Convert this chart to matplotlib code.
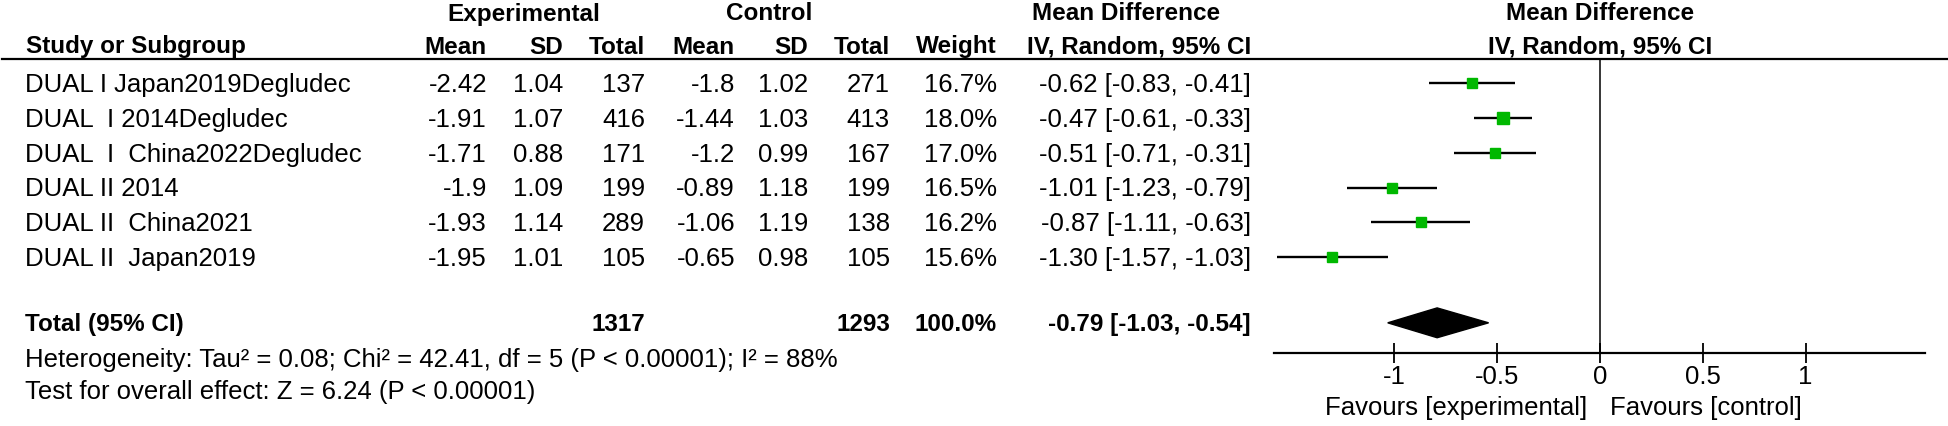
import matplotlib
matplotlib.use('Agg')
import matplotlib.pyplot as plt
from matplotlib.lines import Line2D
from matplotlib.transforms import blended_transform_factory

# study data
studies = ["DUAL I Japan2019Degludec", "DUAL  I 2014Degludec", "DUAL  I  China2022Degludec",
           "DUAL II 2014", "DUAL II  China2021", "DUAL II  Japan2019"]
exp_mean = ["-2.42", "-1.91", "-1.71", "-1.9", "-1.93", "-1.95"]
exp_sd = ["1.04", "1.07", "0.88", "1.09", "1.14", "1.01"]
exp_n = [137, 416, 171, 199, 289, 105]
ctl_mean = ["-1.8", "-1.44", "-1.2", "-0.89", "-1.06", "-0.65"]
ctl_sd = ["1.02", "1.03", "0.99", "1.18", "1.19", "0.98"]
ctl_n = [271, 413, 167, 199, 138, 105]
weight = [16.7, 18.0, 17.0, 16.5, 16.2, 15.6]
md = [-0.62, -0.47, -0.51, -1.01, -0.87, -1.30]
lo = [-0.83, -0.61, -0.71, -1.23, -1.11, -1.57]
hi = [-0.41, -0.33, -0.31, -0.79, -0.63, -1.03]
tot_exp, tot_ctl = 1317, 1293
tot_md, tot_lo, tot_hi = -0.79, -1.03, -0.54
het_text = "Heterogeneity: Tau\u00b2 = 0.08; Chi\u00b2 = 42.41, df = 5 (P < 0.00001); I\u00b2 = 88%"
overall_text = "Test for overall effect: Z = 6.24 (P < 0.00001)"
ticks = [-1, -0.5, 0, 0.5, 1]
tick_labels = ["-1", "-0.5", "0", "0.5", "1"]

W, H = 1949, 426
plt.rcParams['font.family'] = ['Liberation Sans', 'DejaVu Sans']
fig = plt.figure(figsize=(W / 100, H / 100), dpi=100)

# forest panel
ax = fig.add_axes([1274.5 / W, 1 - 353 / H, (1925 - 1274.5) / W, (353 - 59) / H])
n = len(studies)
rows = list(range(n))
tot_row = n + 0.9
ax.set_xlim(-1.58, 1.58)
ax.set_ylim(7.77, -0.705)

for y, m, l, h, w in zip(rows, md, lo, hi, weight):
    ax.plot([l, h], [y, y], color='black', lw=1.7, solid_capstyle='butt')
    ax.plot(m, y, marker='s', ms=w * 0.45, color='#00b800', mec='#00b800')
ax.fill([tot_lo, tot_md, tot_hi, tot_md], [tot_row, tot_row - 0.43, tot_row, tot_row + 0.43],
        color='black')
ax.axvline(0, color='black', lw=1.1)

for s in ['top', 'left', 'right']:
    ax.spines[s].set_visible(False)
ax.spines['bottom'].set_linewidth(1.6)
ax.set_yticks([])
ax.set_xticks(ticks)
ax.set_xticklabels(tick_labels)
ax.tick_params(axis='x', direction='inout', length=14, width=1.3, labelsize=18.5, pad=2)

fig.text(1587 / W, 1 - 408 / H, "Favours [experimental]", ha='right', va='center', fontsize=18.5)
fig.text(1610 / W, 1 - 408 / H, "Favours [control]", ha='left', va='center', fontsize=18.5)

# header
def hx(px):
    return px / W

def hy(py):
    return 1 - py / H

hfs = 17.5
for label, cx in [("Experimental", 524), ("Control", 769), ("Mean Difference", 1126), ("Mean Difference", 1600)]:
    fig.text(hx(cx), hy(14), label, ha='center', va='center', fontsize=hfs, fontweight='bold')
fig.text(hx(26), hy(47), "Study or Subgroup", ha='left', va='center', fontsize=hfs, fontweight='bold')
for label, rx in [("Mean", 487), ("SD", 563), ("Total", 645), ("Mean", 735), ("SD", 808),
                  ("Total", 890), ("Weight", 997), ("IV, Random, 95% CI", 1251)]:
    fig.text(hx(rx), hy(47), label, ha='right', va='center', fontsize=hfs, fontweight='bold')
fig.text(hx(1600), hy(47), "IV, Random, 95% CI", ha='center', va='center', fontsize=hfs, fontweight='bold')
fig.add_artist(Line2D([0.001, 1], [hy(59), hy(59)], color='black', lw=1.6, transform=fig.transFigure))

# table rows
tr = blended_transform_factory(fig.transFigure, ax.transData)
fs = 18.5
off = 0.25
for i in range(n):
    y = rows[i] + off
    fig.text(hx(25), y, studies[i], transform=tr, ha='left', va='baseline', fontsize=fs)
    cells = [(exp_mean[i], 487), (exp_sd[i], 563), (str(exp_n[i]), 645),
             (ctl_mean[i], 735), (ctl_sd[i], 808), (str(ctl_n[i]), 890),
             ("%.1f%%" % weight[i], 997),
             ("%.2f [%.2f, %.2f]" % (md[i], lo[i], hi[i]), 1251)]
    for txt, rx in cells:
        fig.text(hx(rx), y, txt, transform=tr, ha='right', va='baseline', fontsize=fs)

y = tot_row + off
fig.text(hx(25), y, "Total (95% CI)", transform=tr, ha='left', va='baseline', fontsize=hfs, fontweight='bold')
for txt, rx in [(str(tot_exp), 645), (str(tot_ctl), 890), ("100.0%", 997),
                ("%.2f [%.2f, %.2f]" % (tot_md, tot_lo, tot_hi), 1251)]:
    fig.text(hx(rx), y, txt, transform=tr, ha='right', va='baseline', fontsize=hfs, fontweight='bold')

fig.text(hx(25), hy(360), het_text, ha='left', va='center', fontsize=18.5)
fig.text(hx(25), hy(392), overall_text, ha='left', va='center', fontsize=18.5)

fig.savefig('out.png', dpi=100, facecolor='white')
